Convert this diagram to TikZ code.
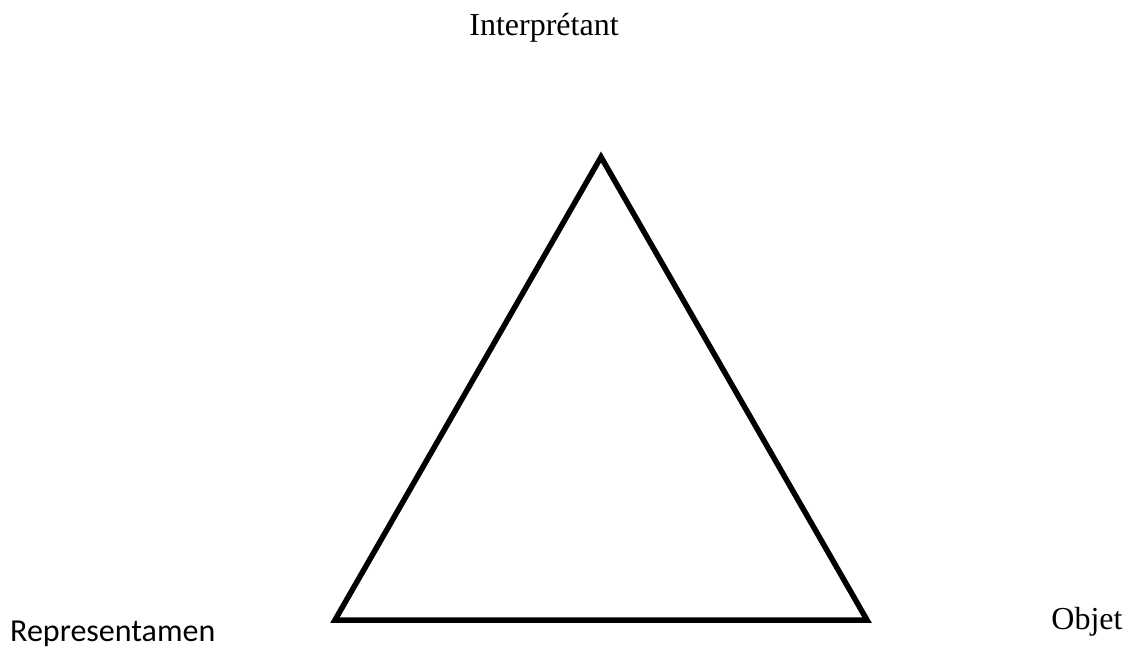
\documentclass[tikz,border=0pt]{standalone}
\usepackage{fontspec}
\setmainfont{Liberation Serif}
\newfontfamily\carlito{Carlito}
\tikzset{
  serlabel/.style={font=\fontsize{32}{38}\selectfont, inner sep=0pt, anchor=base},
  sanslabel/.style={font=\carlito\fontsize{32}{38}\selectfont, inner sep=0pt, anchor=base west},
  tri/.style={line width=5.5pt, line join=miter}
}
\begin{document}
\begin{tikzpicture}[x=1pt,y=-1pt]
\useasboundingbox (0,0) rectangle (1132,649);
\coordinate (I) at (601,157);
\coordinate (R) at (335,620);
\coordinate (O) at (867,620);
\draw[tri] (I) -- (R) -- (O) -- cycle;
\node[serlabel] (interp) at (544,35) {Interprétant};
\node[sanslabel] (repr) at (10,641) {Representamen};
\node[serlabel] (objet) at (1087,629) {Objet};
\end{tikzpicture}
\end{document}
